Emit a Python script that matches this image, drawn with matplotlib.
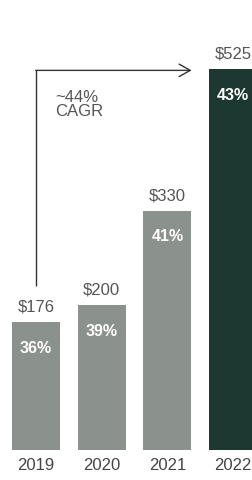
import matplotlib
matplotlib.use("Agg")
import matplotlib.pyplot as plt

years = ["2019", "2020", "2021", "2022"]
values = [176, 200, 330, 525]
value_labels = ["$176", "$200", "$330", "$525"]
pct_labels = ["36%", "39%", "41%", "43%"]
cagr_label = "~44%\nCAGR"

plt.rcParams['font.family'] = ['Liberation Sans', 'DejaVu Sans']

W, H = 253, 480
fig = plt.figure(figsize=(W / 100, H / 100), dpi=100)
ax = fig.add_axes([0, 0, 1, 1])

py = 0.725      # px per unit
px = 65.67      # px per category
x0 = 36         # px of first centre
base = 450      # px from top of bar bottom

ax.set_xlim(-x0 / px, (W - x0) / px)
ax.set_ylim(-(H - base) / py, base / py)
ax.axis('off')

colors = ["#8b918c", "#8b918c", "#8b918c", "#1d3830"]
xs = list(range(len(years)))
ax.bar(xs, values, width=48 / px, color=colors, linewidth=0)

fs = 12
for x, v, vl, pl, yr in zip(xs, values, value_labels, pct_labels, years):
    ax.text(x, v + 15 / py, vl, ha='center', va='center', fontsize=fs, color='#555555')
    ax.text(x, v - 26 / py, pl, ha='center', va='center', fontsize=11.5,
            color='white', fontweight='semibold')
    ax.text(x, -16 / py, yr, ha='center', va='center', fontsize=fs, color='#444444')

# CAGR arrow
top = values[-1] - 1 / py
ax.plot([0, 0], [values[0] + 36 / py, top], color='#333333', lw=1, solid_capstyle='butt')
ax.annotate("", xy=(2.37, top), xytext=(-0.005, top),
            arrowprops=dict(arrowstyle='->,head_length=0.8,head_width=0.45',
                            color='#333333', lw=1, shrinkA=0, shrinkB=0))
ax.text(19 / px, top - 20 / py, cagr_label, ha='left', va='top', fontsize=fs,
        color='#555555', linespacing=0.9)

fig.savefig("out.png", dpi=100)
